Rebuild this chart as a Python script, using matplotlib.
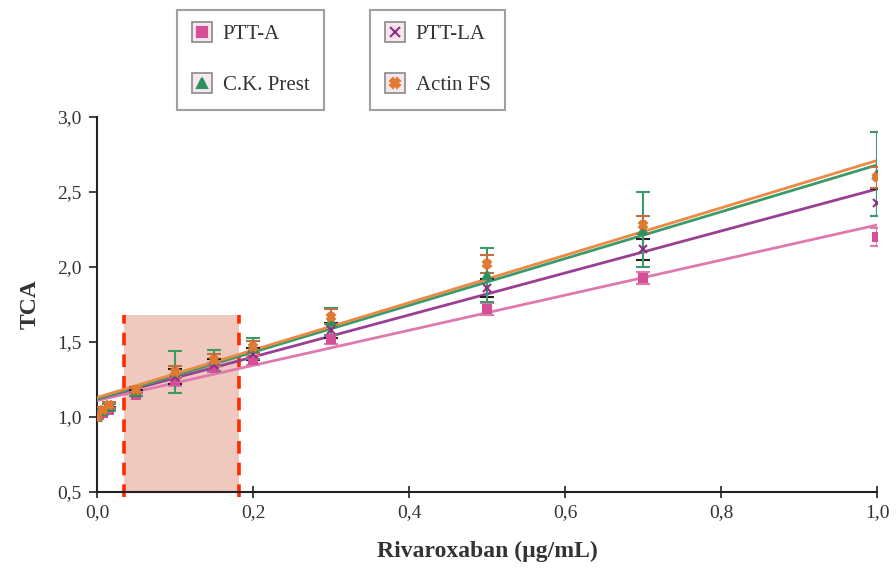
import matplotlib
matplotlib.use("Agg")
import matplotlib.pyplot as plt
import matplotlib.patches as patches
from matplotlib.lines import Line2D
from matplotlib.ticker import FuncFormatter
from matplotlib.legend_handler import HandlerTuple

# dados
conc = [0, 0.008, 0.015, 0.05, 0.1, 0.15, 0.2, 0.3, 0.5, 0.7, 1.0]
ptt_a = [1.00, 1.03, 1.05, 1.15, 1.24, 1.33, 1.38, 1.52, 1.72, 1.93, 2.20]
ptt_a_err = [0.01, 0.01, 0.01, 0.01, 0.03, 0.03, 0.03, 0.03, 0.04, 0.04, 0.06]
ptt_la = [1.00, 1.04, 1.06, 1.16, 1.27, 1.35, 1.42, 1.58, 1.86, 2.12, 2.43]
ptt_la_err = [0.01, 0.01, 0.01, 0.02, 0.05, 0.04, 0.04, 0.05, 0.06, 0.07, 0.09]
ck_prest = [1.00, 1.04, 1.07, 1.17, 1.30, 1.38, 1.46, 1.64, 1.95, 2.25, 2.62]
ck_prest_err = [0.01, 0.01, 0.02, 0.03, 0.14, 0.07, 0.07, 0.09, 0.18, 0.25, 0.28]
actin_fs = [1.00, 1.05, 1.08, 1.18, 1.30, 1.38, 1.47, 1.67, 2.02, 2.28, 2.60]
actin_fs_err = [0.01, 0.02, 0.02, 0.02, 0.04, 0.04, 0.04, 0.05, 0.06, 0.06, 0.07]

# retas de regressão (intercepto, inclinação)
fit_ptt_a = (1.11, 1.17)
fit_ptt_la = (1.12, 1.40)
fit_ck_prest = (1.12, 1.56)
fit_actin_fs = (1.13, 1.58)

# faixa destacada
band = (0.035, 0.182, 1.68)

series = [
    ("PTT-A", ptt_a, ptt_a_err, fit_ptt_a, "#e07aae", "#d44f95", "s", "#e07aae"),
    ("PTT-LA", ptt_la, ptt_la_err, fit_ptt_la, "#9a3f93", "#8e2f86", "x", "#222222"),
    ("C.K. Prest", ck_prest, ck_prest_err, fit_ck_prest, "#3a9a6a", "#2f8f5f", "^", "#3a9a6a"),
    ("Actin FS", actin_fs, actin_fs_err, fit_actin_fs, "#ea8a45", "#e07a30", "X", "#c07040"),
]

plt.rcParams['font.family'] = ['Liberation Serif', 'DejaVu Serif']

fig = plt.figure(figsize=(8.96, 5.77), dpi=100)
ax = fig.add_axes([97/896, 85/577, 780/896, 375/577])

# retângulo e linhas tracejadas
x0, x1, ytop = band
ax.add_patch(patches.Rectangle((x0, 0.5), x1 - x0, ytop - 0.5,
                               facecolor="#edbfb3", edgecolor="none", alpha=0.85, zorder=1))
ax.vlines([x0, x1], 0.47, ytop, colors="#ff2a00", linestyles=(0, (3.5, 2.5)),
          linewidth=2.6, zorder=2, clip_on=False)

handles = []
for name, vals, err, fit, lcol, mcol, mk, ecol in series:
    b, m = fit
    ax.plot([0, 1], [b, b + m], color=lcol, linewidth=2.0, zorder=3)
    ax.errorbar(conc, vals, yerr=err, fmt="none", ecolor=ecol, elinewidth=1.5,
                capsize=5, capthick=1.5, zorder=4)
    ax.plot(conc, vals, linestyle="none", marker=mk, color=mcol,
            markersize=6, markeredgewidth=1.5, zorder=5)
    box = Line2D([], [], linestyle="none", marker="s", markersize=15,
                 markerfacecolor="#f6e6ee", markeredgecolor="#8a8a8a", markeredgewidth=1.2)
    inner = Line2D([], [], linestyle="none", marker=mk, markersize=7,
                   color=mcol, markeredgewidth=1.5)
    handles.append((box, inner))

ax.set_xlim(0, 1.0)
ax.set_ylim(0.5, 3.0)
ax.set_xticks([0, 0.2, 0.4, 0.6, 0.8, 1.0])
ax.set_yticks([0.5, 1.0, 1.5, 2.0, 2.5, 3.0])
fmt = FuncFormatter(lambda v, p: f"{v:.1f}".replace(".", ","))
ax.xaxis.set_major_formatter(fmt)
ax.yaxis.set_major_formatter(fmt)
ax.tick_params(axis="x", direction="inout", length=8, width=1.3, labelsize=14,
               colors="#333333", pad=5)
ax.tick_params(axis="y", direction="out", length=6, width=1.3, labelsize=14,
               colors="#333333", pad=5)
for s in ["top", "right"]:
    ax.spines[s].set_visible(False)
for s in ["left", "bottom"]:
    ax.spines[s].set_linewidth(1.5)
    ax.spines[s].set_color("#222222")

ax.set_xlabel("Rivaroxaban (µg/mL)", fontsize=17, fontweight="bold",
              color="#333333", labelpad=14)
ax.set_ylabel("TCA", fontsize=17, fontweight="bold", color="#333333", labelpad=12)

leg_kw = dict(loc="upper left", fontsize=15, frameon=True, fancybox=False,
              edgecolor="#888888", labelspacing=1.5, handlelength=1.0,
              handletextpad=0.5, borderpad=0.7, borderaxespad=0,
              handler_map={tuple: HandlerTuple(ndivide=1)})
names = [s[0] for s in series]
leg1 = fig.legend([handles[0], handles[2]], [names[0], names[2]],
                  bbox_to_anchor=(177/896, 1 - 10/577), **leg_kw)
leg2 = fig.legend([handles[1], handles[3]], [names[1], names[3]],
                  bbox_to_anchor=(370/896, 1 - 10/577), **leg_kw)
for leg in (leg1, leg2):
    leg.get_frame().set_linewidth(1.5)
    for t in leg.get_texts():
        t.set_color("#333333")

fig.savefig("out.png", dpi=100)
